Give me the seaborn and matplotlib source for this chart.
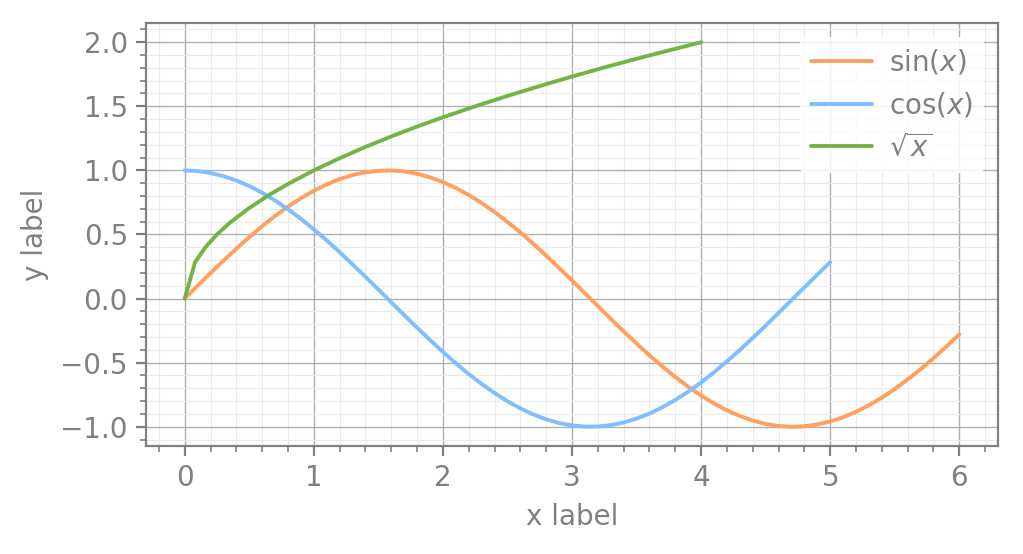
import matplotlib
matplotlib.use("Agg")
import matplotlib.pyplot as plt
import seaborn as sns
import pandas as pd
from matplotlib.ticker import AutoMinorLocator

# Data
sin_x = [0.0, 0.1, 0.2, 0.3, 0.4, 0.5, 0.6, 0.7, 0.8, 0.9, 1.0, 1.1, 1.2, 1.3, 1.4, 1.5,
         1.6, 1.7, 1.8, 1.9, 2.0, 2.1, 2.2, 2.3, 2.4, 2.5, 2.6, 2.7, 2.8, 2.9, 3.0, 3.1,
         3.2, 3.3, 3.4, 3.5, 3.6, 3.7, 3.8, 3.9, 4.0, 4.1, 4.2, 4.3, 4.4, 4.5, 4.6, 4.7,
         4.8, 4.9, 5.0, 5.1, 5.2, 5.3, 5.4, 5.5, 5.6, 5.7, 5.8, 5.9, 6.0]
sin_y = [0.000, 0.100, 0.199, 0.296, 0.389, 0.479, 0.565, 0.644, 0.717, 0.783, 0.841,
         0.891, 0.932, 0.964, 0.985, 0.997, 1.000, 0.992, 0.974, 0.946, 0.909, 0.863,
         0.808, 0.746, 0.675, 0.598, 0.516, 0.427, 0.335, 0.239, 0.141, 0.042, -0.058,
         -0.158, -0.256, -0.351, -0.443, -0.530, -0.612, -0.688, -0.757, -0.818, -0.872,
         -0.916, -0.952, -0.978, -0.994, -1.000, -0.996, -0.982, -0.959, -0.926, -0.883,
         -0.832, -0.773, -0.706, -0.631, -0.551, -0.465, -0.374, -0.279]

cos_x = [0.0, 0.1, 0.2, 0.3, 0.4, 0.5, 0.6, 0.7, 0.8, 0.9, 1.0, 1.1, 1.2, 1.3, 1.4, 1.5,
         1.6, 1.7, 1.8, 1.9, 2.0, 2.1, 2.2, 2.3, 2.4, 2.5, 2.6, 2.7, 2.8, 2.9, 3.0, 3.1,
         3.2, 3.3, 3.4, 3.5, 3.6, 3.7, 3.8, 3.9, 4.0, 4.1, 4.2, 4.3, 4.4, 4.5, 4.6, 4.7,
         4.8, 4.9, 5.0]
cos_y = [1.000, 0.995, 0.980, 0.955, 0.921, 0.878, 0.825, 0.765, 0.697, 0.622, 0.540,
         0.454, 0.362, 0.267, 0.170, 0.071, -0.029, -0.129, -0.227, -0.323, -0.416,
         -0.505, -0.589, -0.666, -0.737, -0.801, -0.857, -0.904, -0.942, -0.971, -0.990,
         -0.999, -0.998, -0.987, -0.967, -0.936, -0.897, -0.848, -0.791, -0.726, -0.654,
         -0.575, -0.490, -0.401, -0.307, -0.211, -0.112, -0.012, 0.087, 0.187, 0.284]

sqrt_x = [0.0, 0.08, 0.16, 0.25, 0.35, 0.5, 0.65, 0.8, 1.0, 1.2, 1.4, 1.6, 1.8, 2.0,
          2.25, 2.5, 2.75, 3.0, 3.25, 3.5, 3.75, 4.0]
sqrt_y = [0.0, 0.283, 0.400, 0.500, 0.592, 0.707, 0.806, 0.894, 1.0, 1.095, 1.183, 1.265,
          1.342, 1.414, 1.5, 1.581, 1.658, 1.732, 1.803, 1.871, 1.936, 2.0]

labels = [r"$\sin(x)$", r"$\cos(x)$", r"$\sqrt{x}$"]
colors = ["#FFA05E", "#7FBEFF", "#73B544"]

sns.set_theme(style="white")
gray = "#808080"
plt.rcParams.update({
    "font.family": ["DejaVu Sans"],
    "axes.edgecolor": gray,
    "xtick.color": gray,
    "ytick.color": gray,
    "axes.labelcolor": gray,
    "text.color": gray,
})

fig = plt.figure(figsize=(1023 / 200, 554 / 200), dpi=200)
ax = fig.add_axes([0.1427, 0.195, 0.9756 - 0.1427, 0.9585 - 0.195])

series = [(sin_x, sin_y), (cos_x, cos_y), (sqrt_x, sqrt_y)]
for (xs, ys), lab, col in zip(series, labels, colors):
    df = pd.DataFrame({"x": xs, "y": ys})
    sns.lineplot(data=df, x="x", y="y", ax=ax, color=col, linewidth=1.4, label=lab)

fs = 10
ax.set_xlabel("x label", fontsize=fs)
ax.set_ylabel("y label", fontsize=fs)
ax.set_xticks([0, 1, 2, 3, 4, 5, 6])
ax.set_yticks([-1.0, -0.5, 0.0, 0.5, 1.0, 1.5, 2.0])
ax.xaxis.set_minor_locator(AutoMinorLocator(5))
ax.yaxis.set_minor_locator(AutoMinorLocator(5))
ax.tick_params(which="major", direction="out", length=3.5, width=0.8, labelsize=fs,
               bottom=True, left=True, pad=3)
ax.tick_params(which="minor", direction="out", length=2, width=0.6, bottom=True, left=True)
ax.grid(which="major", color="#b0b0b0", linewidth=0.5)
ax.grid(which="minor", color="#ebebeb", linewidth=0.4)
ax.set_axisbelow(True)
for sp in ax.spines.values():
    sp.set_color(gray)
    sp.set_linewidth(0.8)

leg = ax.legend(loc="upper right", fontsize=fs, frameon=True, framealpha=0.85,
                edgecolor="none", facecolor="white", handlelength=2.2,
                handletextpad=0.6)
for t in leg.get_texts():
    t.set_color(gray)

fig.savefig("out.png", dpi=200)
